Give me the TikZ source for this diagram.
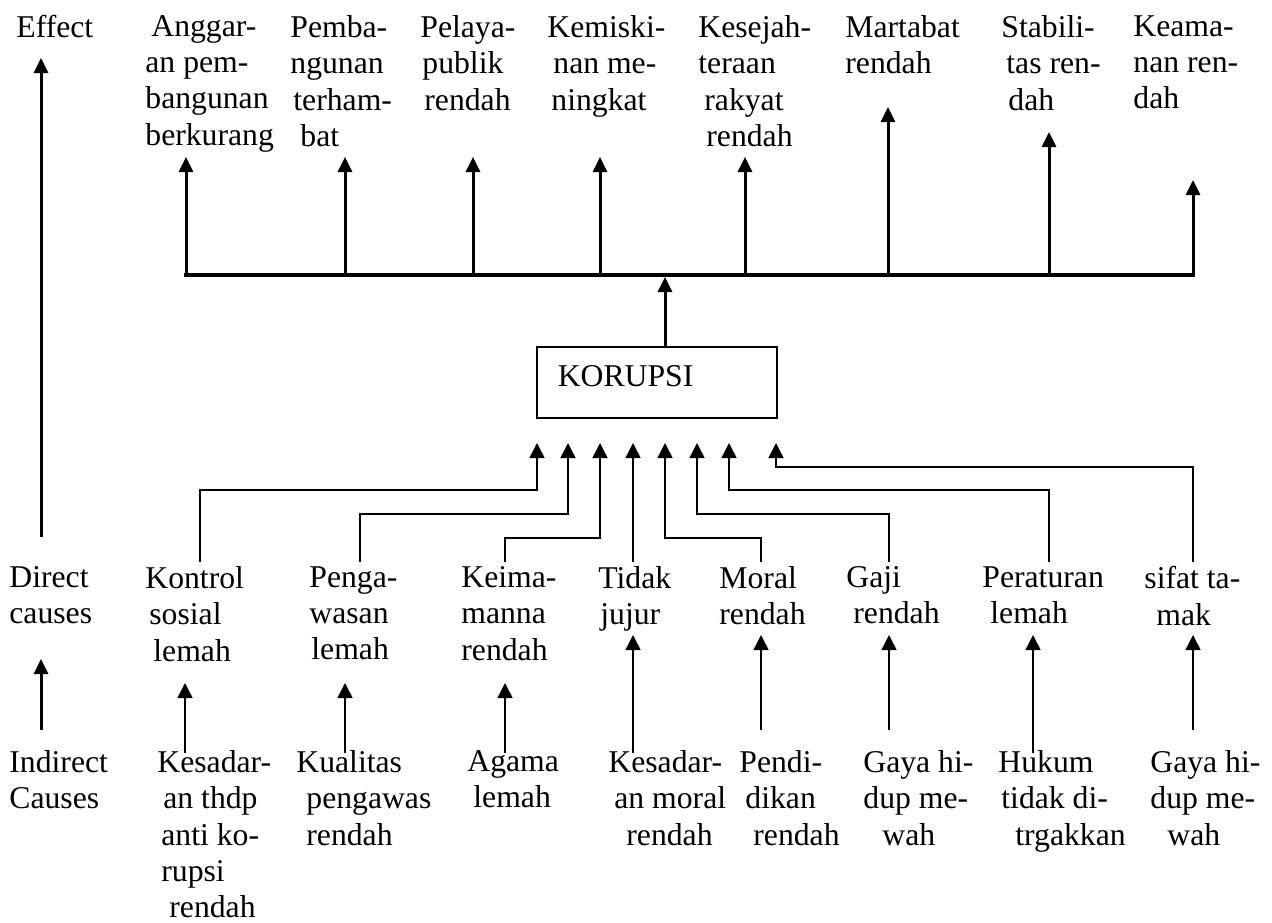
\documentclass[tikz,border=0pt]{standalone}
\usepackage{fontspec}
\setmainfont{Liberation Serif}
\usetikzlibrary{arrows.meta}
\tikzset{
  lbl/.style      = {anchor=north west, inner sep=0pt, align=left,
                     font=\fontsize{15.85pt}{18.15pt}\selectfont},
  corebox/.style  = {rectangle, draw, line width=0.75pt, anchor=north west,
                     minimum width=120pt, text width=99pt, align=left,
                     inner xsep=10.5pt, inner ysep=0pt, text height=20pt, text depth=15.5pt,
                     font=\fontsize{15.85pt}{18.15pt}\selectfont},
  flow/.style     = {-{Triangle[length=7.5pt, width=7pt]}, line width=1.5pt},
  causeflow/.style= {-{Triangle[length=7.5pt, width=7.5pt]}, line width=0.75pt},
  busline/.style  = {line width=2pt, line cap=rect},
}
\begin{document}
\begin{tikzpicture}[x=0.5pt, y=-0.5pt]
        \useasboundingbox (0,0) rectangle (1272,922);
        \node[lbl] (eff) at (16,15)  {Effect};
        \node[lbl] (dir) at (9,566)  {Direct\\causes};
        \node[lbl] (ind) at (9,750)  {Indirect\\Causes};
        \coordinate (efftop) at (41,58);
        \coordinate (effbot) at (41,537);
        \coordinate (dirbot) at (41,659);
        \coordinate (indtop) at (41,730);
        \draw[flow] (effbot) -- (efftop);
        \draw[flow] (indtop) -- (dirbot);

        \node[lbl] (e1) at (145,15)  {\hspace*{3pt}Anggar-\\an pem-\\bangunan\\berkurang};
        \node[lbl] (e2) at (290,15)  {Pemba-\\ngunan\\\hspace*{1.5pt}terham-\\\hspace*{5pt}bat};
        \node[lbl] (e3) at (420,15)  {Pelaya-\\\hspace*{1pt}publik\\\hspace*{2pt}rendah};
        \node[lbl] (e4) at (547,15)  {Kemiski-\\\hspace*{3pt}nan me-\\\hspace*{2pt}ningkat};
        \node[lbl] (e5) at (698,15)  {Kesejah-\\teraan\\\hspace*{3pt}rakyat\\\hspace*{4pt}rendah};
        \node[lbl] (e6) at (845,15)  {Martabat\\rendah};
        \node[lbl] (e7) at (1001,15) {Stabili-\\\hspace*{2.5pt}tas ren-\\\hspace*{3.5pt}dah};
        \node[lbl] (e8) at (1133,15) {Keama-\\nan ren-\\dah};

        \foreach \i/\x/\y in {1/186/157, 2/345/157, 3/473/157, 4/600/157,
                              5/745/157, 6/888/107, 7/1049/132, 8/1193/180}{
            \coordinate (b\i) at (\x,275);
            \coordinate (t\i) at (\x,\y);
        }
        \draw[busline] (b1) -- (b8);
        \foreach \i in {1,...,8}{\draw[flow] (b\i) -- (t\i);}

        \node[corebox] (kor) at (536,346) {KORUPSI};
        \coordinate (kortip) at (665,277);
        \draw[flow] (kor.north -| kortip) -- (kortip);

        \node[lbl] (d1) at (145,566)  {Kontrol\\\hspace*{2pt}sosial\\\hspace*{4pt}lemah};
        \node[lbl] (d2) at (309,566)  {Penga-\\wasan\\\hspace*{1pt}lemah};
        \node[lbl] (d3) at (461,566)  {Keima-\\manna\\rendah};
        \node[lbl] (d4) at (598,566)  {Tidak\\\hspace*{1pt}jujur};
        \node[lbl] (d5) at (719,566)  {Moral\\rendah};
        \node[lbl] (d6) at (846,566)  {Gaji\\\hspace*{3.5pt}rendah};
        \node[lbl] (d7) at (982,566)  {Peraturan\\\hspace*{4pt}lemah};
        \node[lbl] (d8) at (1144,566) {sifat ta-\\\hspace*{6pt}mak};

        \foreach \i/\x/\y/\z in {1/200/490/537, 2/360/514/568, 3/505/538/600, 4/633/538/633,
                                 5/761/538/665, 6/889/514/697, 7/1049/490/729, 8/1193/467/776}{
            \coordinate (s\i) at (\x,562);
            \coordinate (k\i) at (\z,\y);
            \coordinate (c\i) at (\z,443);
        }
        \foreach \i in {1,...,8}{\draw[causeflow] (s\i) |- (k\i) -- (c\i);}

        \node[lbl] (i1) at (157,750)  {Kesadar-\\\hspace*{3pt}an thdp\\\hspace*{2pt}anti ko-\\\hspace*{2pt}rupsi\\\hspace*{6pt}rendah};
        \node[lbl] (i2) at (296,750)  {Kualitas\\\hspace*{5pt}pengawas\\\hspace*{5pt}rendah};
        \node[lbl] (i3) at (467,750)  {Agama\\\hspace*{3pt}lemah};
        \node[lbl] (i4) at (608,750)  {Kesadar-\\\hspace*{3pt}an moral\\\hspace*{9pt}rendah};
        \node[lbl] (i5) at (739,750)  {Pendi-\\\hspace*{3pt}dikan\\\hspace*{7pt}rendah};
        \node[lbl] (i6) at (863,750)  {Gaya hi-\\dup me-\\\hspace*{9.5pt}wah};
        \node[lbl] (i7) at (998,750)  {Hukum\\\hspace*{1.5pt}tidak di-\\\hspace*{8.5pt}trgakkan};
        \node[lbl] (i8) at (1150,750) {Gaya hi-\\dup me-\\\hspace*{8.5pt}wah};

        \foreach \i/\x/\y/\z in {1/185/753/683, 2/345/753/683, 3/505/753/683, 4/633/753/635,
                                 5/761/730/635, 6/889/730/635, 7/1033/753/635, 8/1193/730/635}{
            \coordinate (u\i) at (\x,\y);
            \coordinate (v\i) at (\x,\z);
        }
        \foreach \i in {1,...,8}{\draw[causeflow] (u\i) -- (v\i);}
    \end{tikzpicture}
\end{document}
